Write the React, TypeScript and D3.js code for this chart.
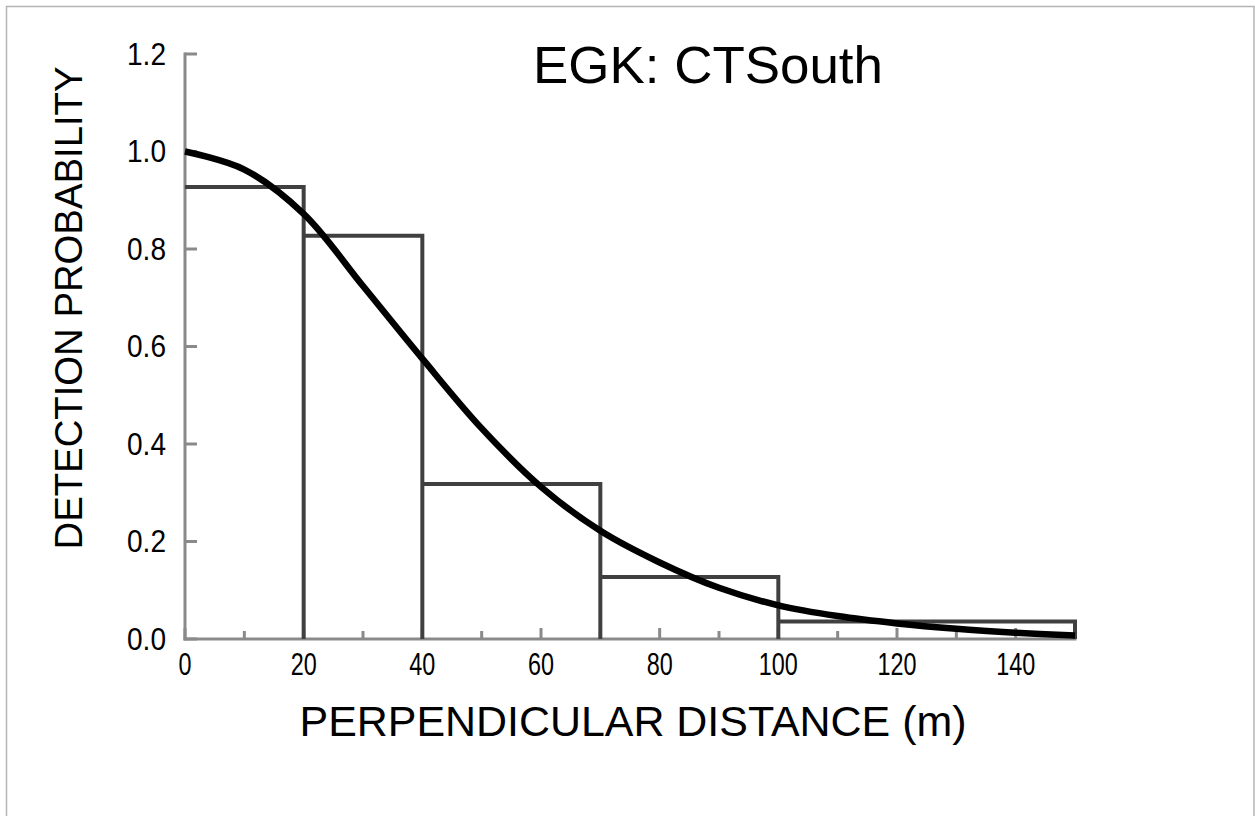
import React from 'react';
import * as d3 from 'd3';

// histogram bins (perpendicular distance, m) and scaled heights
const binEdges = [0, 20, 40, 70, 100, 150];
const binHeights = [0.927, 0.827, 0.318, 0.127, 0.036];

// fitted detection function
const curveX = [0, 10, 20, 30, 40, 50, 60, 70, 80, 90, 100, 110, 120, 130, 140, 150];
const curveY = [1.0, 0.963, 0.872, 0.724, 0.575, 0.432, 0.312, 0.222, 0.157, 0.105, 0.069, 0.047, 0.032, 0.021, 0.013, 0.007];

const xTicks = [0, 20, 40, 60, 80, 100, 120, 140];
const xMinorTicks = [10, 30, 50, 70, 90, 110, 130, 150];
const yTicks = [0, 0.2, 0.4, 0.6, 0.8, 1.0, 1.2];

const title = 'EGK: CTSouth';
const xTitle = 'PERPENDICULAR DISTANCE (m)';
const yTitle = 'DETECTION PROBABILITY';

const W = 1255;
const H = 816;
const font = '"Liberation Sans", Arial, sans-serif';

export default function App() {
  const x = d3.scaleLinear().domain([0, 150]).range([185, 1075]);
  const y = d3.scaleLinear().domain([0, 1.2]).range([639, 54]);

  // step outline of the histogram, no bottom edges
  let bars = `M${x(binEdges[0])},${y(binHeights[0])}`;
  binHeights.forEach((h, i) => {
    if (i > 0) bars += `V${y(h)}`;
    bars += `H${x(binEdges[i + 1])}V${y(0)}`;
  });

  const line = d3.line<number>()
    .x((d, i) => x(curveX[i]))
    .y(d => y(d))
    .curve(d3.curveCatmullRom.alpha(0.5));

  const axisColor = '#8a8a8a';

  return (
    <svg width={W} height={H} style={{ position: 'absolute', left: 0, top: 0, background: '#fff' }}>
      <rect x={6.5} y={6.5} width={1247.5} height={820} fill="#fff" stroke="#b4b4b4" strokeWidth={1.5} />

      {/* y axis */}
      <line x1={x(0)} x2={x(0)} y1={y(1.2) - 1.5} y2={y(0) + 1.5} stroke={axisColor} strokeWidth={3} />
      {yTicks.map(t => (
        <g key={'y' + t}>
          <line x1={x(0)} x2={x(0) + 12} y1={y(t)} y2={y(t)} stroke={axisColor} strokeWidth={3} />
          <text x={166} y={y(t)} dominantBaseline="central" textAnchor="end"
            fontFamily={font} fontSize={31} textLength={39}
            lengthAdjust="spacingAndGlyphs" fill="#000">{t.toFixed(1)}</text>
        </g>
      ))}

      {/* x axis */}
      <line x1={x(0) - 1.5} x2={x(150) + 1.5} y1={y(0)} y2={y(0)} stroke={axisColor} strokeWidth={3} />
      {xTicks.map(t => (
        <g key={'x' + t}>
          <line x1={x(t)} x2={x(t)} y1={y(0)} y2={y(0) - 11} stroke={axisColor} strokeWidth={3} />
          <text x={x(t)} y={664} dominantBaseline="central" textAnchor="middle"
            fontFamily={font} fontSize={32} textLength={String(t).length * 13}
            lengthAdjust="spacingAndGlyphs" fill="#000">{t}</text>
        </g>
      ))}
      {xMinorTicks.map(t => (
        <line key={'m' + t} x1={x(t)} x2={x(t)} y1={y(0)} y2={y(0) - 8} stroke={axisColor} strokeWidth={3} />
      ))}

      {/* histogram */}
      <path d={bars} fill="none" stroke="#404040" strokeWidth={4} strokeLinejoin="miter" />

      {/* detection function */}
      <path d={line(curveY) || ''} fill="none" stroke="#000" strokeWidth={6.5} />

      {/* titles */}
      <text x={708} y={83} textAnchor="middle" fontFamily={font} fontSize={52}
        textLength={350} lengthAdjust="spacingAndGlyphs" fill="#000">{title}</text>
      <text x={633} y={736} textAnchor="middle" fontFamily={font} fontSize={42}
        textLength={667} lengthAdjust="spacingAndGlyphs" fill="#000">{xTitle}</text>
      <text transform={`translate(82,308) rotate(-90)`} textAnchor="middle" fontFamily={font} fontSize={38}
        textLength={483} lengthAdjust="spacingAndGlyphs" fill="#000">{yTitle}</text>
    </svg>
  );
}
